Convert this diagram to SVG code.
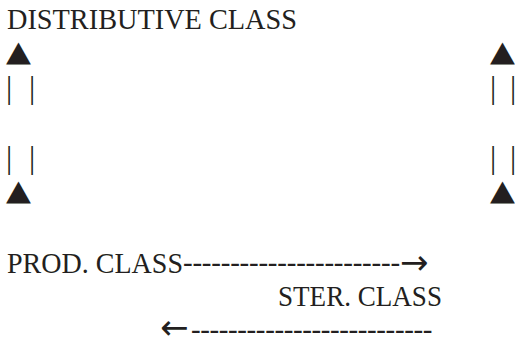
<svg xmlns="http://www.w3.org/2000/svg" width="515" height="343" viewBox="0 0 515 343">
<style>
.t{font-family:'Liberation Serif','DejaVu Serif',serif;font-size:29px;fill:#231f20}
.tri{font-family:'DejaVu Sans',sans-serif;font-size:29px;fill:#231f20}
.bar{font-family:'Liberation Serif','DejaVu Serif',serif;font-size:31px;fill:#231f20}
.arr{font-family:'DejaVu Sans',sans-serif;font-size:34px;fill:#231f20}
</style>
<rect width="515" height="343" fill="#ffffff"/>
<g id="distributive-class"><text class="t" x="7" y="29" textLength="290" lengthAdjust="spacingAndGlyphs">DISTRIBUTIVE CLASS</text></g>
<g id="prod-class"><text class="t" x="7" y="273" textLength="176" lengthAdjust="spacingAndGlyphs">PROD. CLASS</text></g>
<g id="ster-class"><text class="t" x="278" y="306" textLength="164" lengthAdjust="spacingAndGlyphs">STER. CLASS</text></g>
<g id="connectors">
<text class="tri" transform="translate(6,61) scale(1.12,1)">▲</text>
<text class="tri" transform="translate(490,61) scale(1.12,1)">▲</text>
<text class="bar" x="6 18 29" y="98">| |</text>
<text class="bar" x="490 501 510" y="98">| |</text>
<text class="bar" x="6 18 29" y="168">| |</text>
<text class="bar" x="490 501 510" y="168">| |</text>
<text class="tri" transform="translate(6,200) scale(1.12,1)">▲</text>
<text class="tri" transform="translate(490,200) scale(1.12,1)">▲</text>
<text class="t" x="183" y="272" letter-spacing="-0.23">-----------------------<tspan class="arr" x="400" y="274" letter-spacing="0">→</tspan></text>
<text class="t" y="339"><tspan class="arr" x="160">←</tspan><tspan x="191" letter-spacing="-0.39">--------------------------</tspan></text>
</g>
</svg>
